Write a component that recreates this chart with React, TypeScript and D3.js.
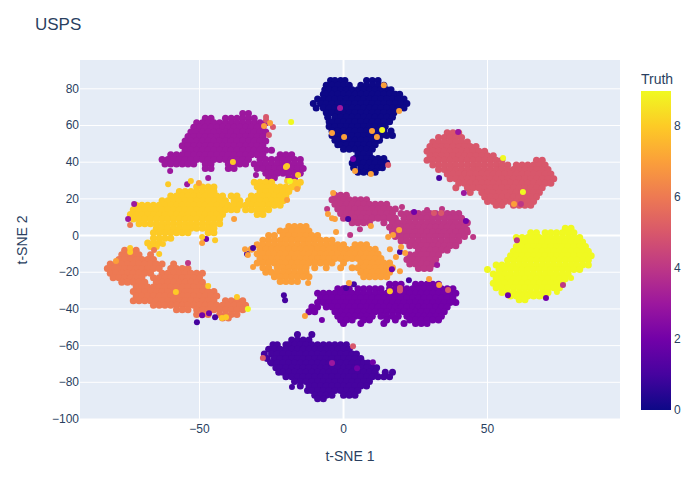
import React from 'react';
import * as d3 from 'd3';

type Rows = [number, number[]][];

// t-SNE clusters, one [y, x values] row per scan line
const truth0: Rows = [
  [84.5, [-4.5,-3,-1,0.5,8,10,12]],
  [82, [-6,-4,-2,0,2,6,8,10,12,14]],
  [79.5, [-6.5,-5,-3,-1,1,3,5,7,9,11,13,15,16.5]],
  [77, [-7,-6,-4,-2,0,2,4,6,8,10,12,14,16,18,19.5]],
  [74.5, [-9,-7,-5,-3,-1,1,3,5,7,9,11,13,15,17,19,21]],
  [72, [-10.5,-8,-6,-4,-2,0,2,4,6,8,10,12,14,16,18,20,22]],
  [69.5, [-9.5,-7,-5,-3,-1,1,3,5,7,9,11,13,15,17,19,21]],
  [67, [-6,-4,-2,0,2,4,6,8,10,12,14,16,17.5]],
  [64.5, [-5.5,-3,-1,1,3,5,7,9,11,13,15,17]],
  [62, [-5,-4,-2,0,2,4,6,8,10,12,14,16]],
  [59.5, [-5,-3,-1,1,3,5,7,9,11,13,14.5]],
  [57, [-4,-2,0,2,4,6,8,10,12,14,16.5]],
  [54.5, [-4,-3,-1,1,3,5,7,9,11,13,15,17]],
  [52, [-3,-2,0,2,4,6,8,10,12,12.5]],
  [49.5, [-2,-1,1,3,5,7,9,11]],
  [47, [0,2,4,6,8,10]],
  [44.5, [5,7,9]],
  [42, [4,6,8,10,12,14]],
  [39.5, [3,5,7,9,11,13,15]],
  [37, [3.5,6,8,10,12,13.5]],
  [34.5, [5,7,9,11]],
];

const truth1: Rows = [
  [-54, [-16,-11]],
  [-57, [-18,-16,-14,-12]],
  [-59.5, [-24.5,-23,-20,-19,-17,-15,-13,-11,-9,-7,-5,-3,-1,1]],
  [-62, [-26,-24,-22,-20,-18,-16,-14,-12,-10,-8,-6,-4,-2,0,2]],
  [-64.5, [-27.5,-25,-23,-21,-19,-17,-15,-13,-11,-9,-7,-5,-3,-1,1,3,4.5]],
  [-67, [-26.5,-24,-22,-20,-18,-16,-14,-12,-10,-8,-6,-4,-2,0,2,4,6]],
  [-69.5, [-25,-23,-21,-19,-17,-15,-13,-11,-9,-7,-5,-3,-1,1,3,5,7,8.5]],
  [-72, [-23.5,-22,-20,-18,-16,-14,-12,-10,-8,-6,-4,-2,0,2,4,6,8,10,11.5]],
  [-74.5, [-22.5,-21,-19,-17,-15,-13,-11,-9,-7,-5,-3,-1,1,3,5,7,9,11,14.5,17]],
  [-77, [-20,-18,-16,-14,-12,-10,-8,-6,-4,-2,0,2,4,6,8,10,12,14,16]],
  [-79.5, [-17,-15,-13,-11,-9,-7,-5,-3,-1,1,3,5,7,9]],
  [-82, [-15,-12,-10,-8,-6,-4,-2,0,2,4,6,8]],
  [-84.5, [-12.5,-11,-9,-7,-5,-3,-1,1,3,5]],
  [-87, [-10,-8,-6,-4,0,2,4]],
  [-89, [-9,-7]],
];

const truth2: Rows = [
  [-26.5, [16,18,20,25,27,29,31,33]],
  [-29, [-2,0,2,5,7,9,11,13,16,18,20,22,24,26,28,30,32,34,36,38]],
  [-31.5, [-9,-7,-5,-3,-1,1,3,5,7,9,11,13,15,17,19,21,23,25,27,29,31,33,35,37,39]],
  [-34, [-8,-6,-4,-2,0,2,4,6,8,10,12,14,16,18,20,22,24,26,28,30,32,34,36,38]],
  [-36.5, [-9,-7,-5,-3,-1,1,3,5,7,9,11,13,15,17,19,21,23,25,27,29,31,33,35,37,39]],
  [-39, [-11,-9,-6,-4,-2,0,2,4,6,8,10,12,14,16,18,20,22,24,26,28,30,32,34,36]],
  [-41.5, [-12,-10,-3,-1,1,3,5,7,9,11,13,15,17,19,21,23,25,27,29,31,33,35]],
  [-44, [-2,0,2,4,6,8,10,13,15,17,19,22,24,26,28,30,32,34]],
  [-46, [-1,1,3,7,9,15,18,23,25,27,29,31,33]],
  [-48, [0,6,14,21,25,27,29]],
];

const truth3: Rows = [
  [66.5, [-35,-33]],
  [64, [-48,-46,-41,-39,-37,-35,-33,-31]],
  [61.5, [-51,-49,-47,-45,-43,-41,-39,-37,-35,-33,-31,-29,-27]],
  [59, [-52,-50,-48,-46,-44,-42,-40,-38,-36,-34,-32,-30,-28]],
  [56.5, [-53,-51,-49,-47,-45,-43,-41,-39,-37,-35,-33,-31,-29,-27]],
  [54, [-54,-52,-50,-48,-46,-44,-42,-40,-38,-36,-34,-32,-30,-28]],
  [51.5, [-55,-53,-51,-49,-47,-45,-43,-41,-39,-37,-35,-33,-31,-29,-27]],
  [49, [-56,-54,-52,-50,-48,-46,-44,-42,-40,-38,-36,-34,-32,-30,-28]],
  [46.5, [-55,-53,-51,-49,-47,-45,-43,-41,-39,-37,-35,-33,-31,-29,-27,-25]],
  [44, [-60,-58,-56,-54,-52,-50,-48,-46,-44,-42,-40,-38,-36,-34,-32,-30,-28,-22,-20,-18]],
  [41.5, [-63,-61,-59,-57,-55,-53,-51,-49,-47,-45,-43,-41,-39,-37,-35,-33,-29,-27,-25,-23,-21,-19,-17,-15]],
  [39, [-62,-60,-58,-56,-54,-52,-48,-46,-40,-38,-36,-34,-31,-29,-27,-25,-23,-21,-19,-17,-15]],
  [36.5, [-48,-46,-40,-38,-30,-28,-26,-24,-22,-20,-18,-16,-14]],
  [34, [-27,-25,-23,-21,-19,-17,-15]],
  [31.5, [-26,-24,-19,-17]],
];

const truth4: Rows = [
  [22, [-3,-1,1]],
  [19.5, [-4,-2,0,2,4,6,8]],
  [17, [-3,-1,1,3,5,7,9,11,13,15]],
  [14.5, [-2,0,2,4,6,8,10,12,14,16,18]],
  [12, [-1,1,3,5,7,9,11,13,15,17,20,22,24,26,28,30,32,34,36,38,40]],
  [9.5, [0,2,4,6,8,10,12,14,16,18,21,23,25,27,29,31,33,35,37,39,41]],
  [7, [3,5,7,9,14,17,19,21,23,25,27,29,31,33,35,37,39,41,43]],
  [4.5, [16,18,20,22,24,26,28,30,32,34,36,38,40,42]],
  [2, [17,19,21,23,25,27,29,31,33,35,37,39,41,43]],
  [-0.5, [18,20,22,24,26,28,30,32,34,36,38,40,42]],
  [-3, [20,22,24,26,28,30,32,34,36,38,40]],
  [-5.5, [23,25,27,29,31,33,35,37,39]],
  [-8, [26,28,30,32,34,36]],
  [-10.5, [23,25,27,29,31,33]],
  [-13, [22,24,26,28,30,32]],
  [-15.5, [23,25,27,29,31]],
  [-18, [26,28,30]],
];

const truth5: Rows = [
  [56, [36,38,40]],
  [53.5, [33,35,37,39,41]],
  [51, [31,33,35,37,39,41,43]],
  [48.5, [30,32,34,36,38,40,42,44,46]],
  [46, [29,31,33,35,37,39,41,43,45,47,49]],
  [43.5, [30,32,34,36,38,40,42,44,46,48,50,52]],
  [41, [29,31,33,35,37,39,41,43,45,47,49,51,53,55,67,69]],
  [38.5, [31,33,35,37,39,41,43,45,47,49,51,53,55,57,60,62,64,66,68,70]],
  [36, [33,35,37,39,41,43,45,47,49,51,53,55,57,59,61,63,65,67,69,71]],
  [33.5, [36,38,40,42,44,46,48,50,52,54,56,58,60,62,64,66,68,70,72]],
  [31, [37,39,41,43,45,47,49,51,53,55,57,59,61,63,65,67,69,71,73]],
  [28.5, [40,42,44,46,48,50,52,54,56,58,60,62,64,66,68,70,72]],
  [26, [39,43,45,47,49,51,53,55,57,59,61,63,65,67,69]],
  [23.5, [44,48,50,52,54,56,58,60,62,64,66,68]],
  [21, [49,51,53,55,57,59,61,63,65,67]],
  [18.5, [50,52,54,56,58,60,62,64,66]],
  [16.5, [53,55,59,61,63,65]],
];

const truth6: Rows = [
  [-8, [-76,-74,-72]],
  [-10.5, [-77,-75,-73,-71,-67]],
  [-13, [-78,-76,-74,-72,-70,-68,-66]],
  [-15.5, [-81,-79,-77,-75,-73,-71,-69,-67,-65,-63,-59]],
  [-18, [-82,-80,-78,-76,-74,-72,-70,-68,-66,-64,-60,-58,-56,-54]],
  [-20.5, [-81,-79,-77,-75,-73,-71,-69,-67,-63,-61,-59,-57,-55,-53,-51,-49]],
  [-23, [-80,-78,-76,-74,-72,-70,-66,-64,-62,-60,-58,-56,-54,-52,-50]],
  [-25.5, [-77,-75,-73,-71,-69,-65,-63,-61,-59,-57,-55,-53,-51,-49]],
  [-28, [-72,-70,-68,-66,-64,-62,-60,-58,-56,-54,-52,-50,-48]],
  [-30.5, [-73,-71,-69,-67,-65,-63,-61,-59,-57,-55,-53,-51,-49,-47,-45]],
  [-33, [-72,-70,-68,-66,-64,-62,-60,-58,-56,-54,-52,-50,-48,-46,-44]],
  [-35.5, [-73,-71,-69,-67,-65,-63,-61,-59,-57,-55,-53,-51,-49,-47,-45,-41,-39,-37,-35]],
  [-38, [-66,-64,-62,-60,-58,-56,-54,-52,-50,-48,-46,-44,-42,-40,-38,-36,-34]],
  [-40.5, [-58,-56,-54,-51,-49,-47,-45,-43,-41,-39,-37,-35]],
  [-43, [-51,-49,-47,-43,-41,-39,-37]],
  [-45, [-42,-40]],
];

const truth7: Rows = [
  [5, [-19,-17,-15,-13]],
  [2.5, [-22,-20,-18,-16,-14,-12]],
  [0, [-26,-24,-21,-19,-17,-15,-13,-11,-9]],
  [-2.5, [-28,-26,-24,-22,-20,-18,-16,-14,-12,-10,-8,-6,-4]],
  [-5, [-30,-28,-26,-24,-22,-20,-18,-16,-14,-12,-10,-8,-6,-4,-2,0,4,6,8]],
  [-7.5, [-32,-29,-27,-25,-23,-21,-19,-17,-15,-13,-11,-9,-7,-5,-3,-1,1,3,5,7,9,11]],
  [-10, [-30,-28,-26,-24,-22,-20,-18,-16,-14,-12,-10,-8,-6,-4,-2,0,2,4,6,8,10,12]],
  [-12.5, [-29,-27,-25,-23,-21,-19,-17,-15,-13,-11,-9,-7,-5,-3,-1,1,3,5,7,9,11,13]],
  [-15, [-30,-28,-26,-24,-22,-20,-18,-16,-14,-12,-10,-8,-6,-4,0,6,8,10,12,14,16]],
  [-17.5, [-28,-26,-23,-21,-19,-17,-15,-13,-10,-6,-1,3,5,7,9,11,13,15,17]],
  [-20, [-27,-25,-23,-21,-19,-17,-15,-13,6,8,10,12,14,16]],
  [-22.5, [-24,-22,-20,-18,-16,-14,-12,7,9,11,13,15]],
  [-25, [-22,-20,-18,-16]],
];

const truth8: Rows = [
  [29, [-31,-29,-27,-25,-17,-15]],
  [26.5, [-51,-49,-47,-45,-30,-28,-26,-24,-22,-20,-18,-16]],
  [24, [-57,-55,-53,-51,-49,-47,-45,-29,-27,-25,-23,-21,-19]],
  [21.5, [-60,-58,-56,-54,-52,-50,-48,-46,-44,-42,-39,-37,-32,-30,-28,-26,-24,-22,-20]],
  [19, [-63,-61,-59,-57,-55,-53,-51,-49,-47,-45,-43,-41,-38,-36,-33,-31,-29,-27,-25,-23,-21]],
  [16.5, [-72,-70,-68,-66,-64,-62,-60,-58,-56,-54,-52,-50,-48,-46,-44,-42,-40,-38,-36,-34,-32,-30,-28,-26,-24,-22]],
  [14, [-73,-71,-69,-67,-65,-63,-61,-59,-57,-55,-53,-51,-49,-47,-45,-43,-41,-39,-37,-34,-32,-30,-28,-26]],
  [11.5, [-74,-72,-70,-68,-66,-64,-62,-60,-58,-56,-54,-52,-50,-48,-46,-44,-42,-30,-28]],
  [9, [-73,-71,-69,-67,-65,-63,-61,-59,-57,-55,-53,-51,-49,-47,-45,-43]],
  [6.5, [-71,-69,-67,-65,-63,-61,-59,-57,-55,-53,-51,-49,-47,-45,-43]],
  [4, [-65,-63,-61,-59,-57,-55,-53,-51,-49,-47,-45]],
  [1.5, [-66,-64,-62,-60,-58,-56,-54,-47,-45]],
  [-1.5, [-66,-64,-62,-60]],
  [-4, [-68,-66,-64]],
  [-6, [-67,-65]],
];

const truth9: Rows = [
  [4, [77,79]],
  [1.5, [65,67,70,72,74,76,78,80]],
  [-1, [60,62,64,66,68,70,72,74,76,78,80,82]],
  [-3.5, [61,63,65,67,69,71,73,75,77,79,81,83]],
  [-6, [60,62,64,66,68,70,72,74,76,78,80,82,84]],
  [-8.5, [59,61,63,65,67,69,71,73,75,77,79,81,83,85]],
  [-11, [58,60,62,64,66,68,70,72,74,76,78,80,82,84,86]],
  [-13.5, [57,59,61,63,65,67,69,71,73,75,77,79,81,83,85]],
  [-16, [53,55,57,59,61,63,65,67,69,71,73,75,77,79,81,83,85]],
  [-18.5, [50,54,56,58,60,62,64,66,68,70,72,74,76,78,80,82]],
  [-21, [52,54,56,58,60,62,64,66,68,70,72,74,76,78]],
  [-23.5, [53,55,57,59,61,63,65,67,69,71,73,75,77]],
  [-26, [52,54,56,58,60,62,64,66,68,70,72,74,76]],
  [-28.5, [53,55,57,59,61,63,65,67,69,71,73,75]],
  [-31, [55,57,59,61,63,65,67,69,71]],
  [-33, [58,60,62,64,66,68,70]],
  [-35, [61,63]],
];

const clusters: Rows[] = [truth0, truth1, truth2, truth3, truth4, truth5, truth6, truth7, truth8, truth9];

// misclassified points that sit away from their own cluster: [x, y, truth]
const strays: [number, number, number][] = [
  [33.2,31.4,1],[1.6,9,1],[19.6,-9,1],[22.7,-24.3,1],[3.6,-26.5,1],[0.9,-28.6,1],[-50.9,-47.2,1],[-44.6,-44.5,1],
  [-31.4,-6.8,1],[-33.5,-10,1],[-20.7,-32.5,1],[-20.3,-35.2,1],[-25.5,-69,1],[-17.9,-82.6,1],
  [3.3,41.7,2],[-47.7,-1.9,2],[24.5,12.8,2],[42.5,7.9,2],[16.8,-18.3,2],[70.3,-34,2],[57.1,-32.5,2],[-49.1,-43.4,2],
  [-46.7,-42.3,2],[-7.5,-46,2],[4.7,-72.3,2],[10.2,-69,2],
  [-1.2,69.5,3],[-54.3,28,3],[-30.4,33,3],[-47,31.4,3],[-60.2,35.2,3],[-72.7,17.2,3],[-74.8,9,3],[39.8,56.5,3],
  [41.8,23.2,3],[32.5,-16,3],[-4,-69.5,3],
  [76.2,-27,4],[-5.7,14.5,4],[61.6,17.2,4],[5.7,3.5,4],[2.3,0.3,4],[29,13.9,4],[34.2,14.5,4],[20.3,15.5,4],[45,-0.8,4],
  [42.9,3.5,4],[-54,-15,4],[60.2,-2.5,4],
  [-26.9,64.6,5],[-26.9,63,5],[-24.5,59.2,5],[-25.9,54.8,5],[15.5,38.5,5],[31.4,12.3,5],[33.9,12.3,5],[19.6,-28.6,5],
  [19.6,-30,5],[36.3,-29.7,5],[3.3,-60.3,5],[-28,-66.8,5],
  [-74.1,5.7,6],[-65.8,-7.9,6],
  [-27.6,59.7,7],[-25.5,61.4,7],[-4,55.9,7],[0.2,53.7,7],[-50.2,28.6,7],[-16.1,25.4,7],[-19.6,19.4,7],[-38,9,7],
  [-3.6,23.2,7],[-5.4,11.7,7],[-4,9.5,7],[-3,9,7],[-2.6,1.9,7],[14,82,7],[19.3,67.9,7],[9.9,57,7],[11.6,53.7,7],
  [4,35.2,7],[9.5,33.5,7],[59.2,17.2,7],[9.5,5.2,7],[19.3,3,7],[17.2,0.3,7],[15.5,-0.8,7],[16.1,-7.4,7],[18.2,-11.7,7],
  [21.4,-9.5,7],[20,-6.3,7],[19.6,-19.4,7],[29.7,-23.7,7],[33.2,-27,7],[1.9,-25.9,7],[-79,-13.9,7],[-49.1,-4.1,7],
  [-34.2,-7.4,7],[-31.4,-17.2,7],[-33.2,-10.6,7],[-12.3,-25.9,7],[-13.4,-43.9,7],
  [-38.4,40.1,8],[-20,37.4,8],[-19.6,37.9,8],[-19.6,29.7,8],[-15.8,33,8],[-60.9,28,8],[-53,29.7,8],[-49.1,-0.8,8],
  [-44.6,-2.5,8],[16.1,-30.3,8],[-74.1,-6.8,8],[-74.1,-9,8],[-64,-10,8],[-62.7,-4.6,8],[-58.2,-30.8,8],[-47,-27.5,8],
  [-37,-33.5,8],[-42.2,-45,8],[-40.8,-44.5,8],
  [-18.2,61.9,9],[-18.6,29.7,9],[13.4,57.5,9],[55.4,42.3,9],[62.3,23.7,9],[79,-23.2,9],[74.1,-30.8,9],[-33.2,-40.1,9],
];

const plasma = ['#0d0887', '#46039f', '#7201a8', '#9c179e', '#bd3786', '#d8576b', '#ed7953', '#fb9f3a', '#fdca26', '#f0f921'];
const xTicks = [-50, 0, 50];
const yTicks = [80, 60, 40, 20, 0, -20, -40, -60, -80, -100];
const colorTicks = [0, 2, 4, 6, 8];

const font = '"Liberation Sans", Arial, sans-serif';
const ink = '#2a3f5f';
const minus = (v: number) => String(v).replace('-', '\u2212');

export default function App() {
  const x = d3.scaleLinear().domain([-91.5, 96]).range([80, 620]);
  const y = d3.scaleLinear().domain([-100, 95.7]).range([419, 60]);
  const c = d3.scaleLinear().domain([0, 9]).range([410, 91]);
  const color = d3.scaleOrdinal<number, string>().domain(d3.range(10)).range(plasma);

  const points = clusters.flatMap((rows, truth) =>
    rows.flatMap(([py, xs]) => xs.map(px => ({ px, py, truth })))
  );

  return (
    <svg width={700} height={500} style={{ position: 'absolute', left: 0, top: 0, display: 'block' }} fontFamily={font}>
      <defs>
        <clipPath id="plot">
          <rect x={80} y={60} width={540} height={359} />
        </clipPath>
        <linearGradient id="bar" x1="0" y1="1" x2="0" y2="0">
          {plasma.map((col, i) => (
            <stop key={i} offset={i / 9} stopColor={col} />
          ))}
        </linearGradient>
      </defs>
      <rect width={700} height={500} fill="#fff" />
      <rect x={80} y={60} width={540} height={359} fill="#e5ecf6" />
      {xTicks.map(t => (
        <line key={t} x1={x(t)} x2={x(t)} y1={60} y2={419} stroke="#fff" strokeWidth={t === 0 ? 2 : 1} />
      ))}
      {yTicks.map(t => (
        <line key={t} x1={80} x2={620} y1={y(t)} y2={y(t)} stroke="#fff" strokeWidth={t === 0 ? 2 : 1} />
      ))}
      <g clipPath="url(#plot)">
        {points.map((p, i) => (
          <circle key={i} cx={x(p.px)} cy={y(p.py)} r={3.5} fill={color(p.truth)} />
        ))}
        {strays.map((s, i) => (
          <circle key={i} cx={x(s[0])} cy={y(s[1])} r={3} fill={color(s[2])} />
        ))}
      </g>
      {xTicks.map(t => (
        <text key={t} x={x(t)} y={433} textAnchor="middle" fontSize={12} fill={ink}>{minus(t)}</text>
      ))}
      {yTicks.map(t => (
        <text key={t} x={79} y={y(t) + 4} textAnchor="end" fontSize={12} fill={ink}>{minus(t)}</text>
      ))}
      <text x={35} y={30} fontSize={17} fill={ink}>USPS</text>
      <text x={350} y={461} textAnchor="middle" fontSize={14} fill={ink}>t-SNE 1</text>
      <text transform="translate(27,240) rotate(-90)" textAnchor="middle" fontSize={14} fill={ink}>t-SNE 2</text>
      <text x={641} y={84} fontSize={14} fill={ink}>Truth</text>
      <rect x={641} y={91} width={30} height={319} fill="url(#bar)" />
      {colorTicks.map(t => (
        <text key={t} x={674} y={c(t) + 4} fontSize={12} fill={ink}>{t}</text>
      ))}
    </svg>
  );
}
